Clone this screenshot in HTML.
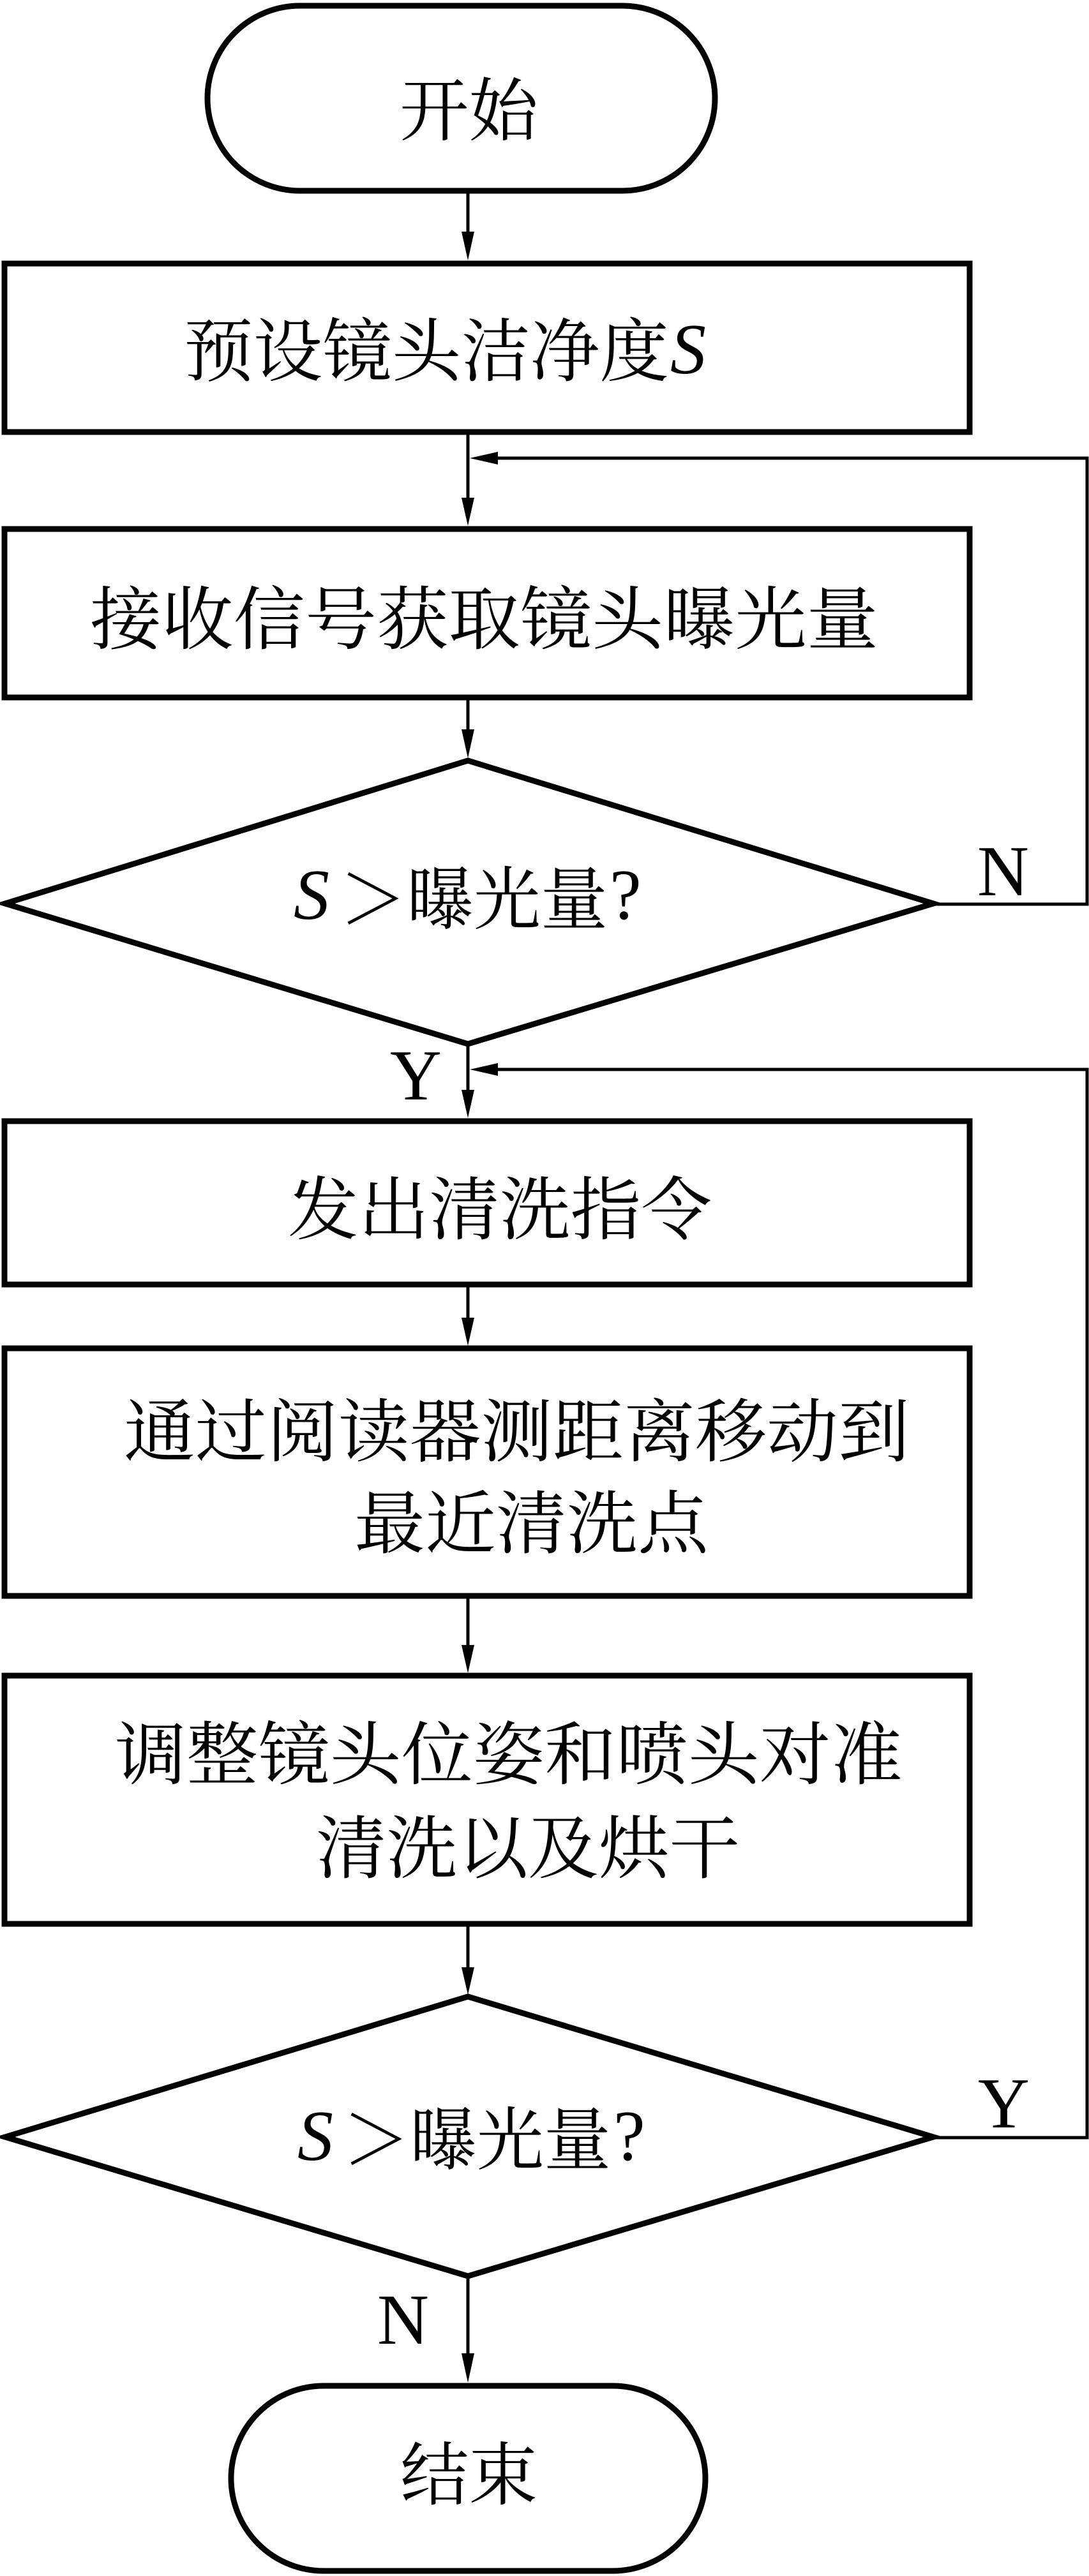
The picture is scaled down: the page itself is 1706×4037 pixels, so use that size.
<!DOCTYPE html>
<html><head><meta charset="utf-8"><style>
html,body{margin:0;padding:0;background:#fff;}
svg{display:block;}
.cjk{font-family:"Noto Serif CJK SC","Liberation Serif",serif;font-size:108px;fill:#000;}
.lat{font-family:"Liberation Serif",serif;font-size:112px;fill:#000;}
</style></head><body>
<svg width="1706" height="4037" viewBox="0 0 1706 4037" xmlns="http://www.w3.org/2000/svg">
<g fill="none" stroke="#000" stroke-width="9">
  <rect x="325" y="9" width="795" height="290" rx="145" ry="145"/>
  <rect x="7" y="413" width="1512" height="264"/>
  <rect x="7" y="829" width="1512" height="264"/>
  <polygon points="8,1416 733,1192 1462,1416 733,1636"/>
  <rect x="7" y="1757" width="1512" height="256"/>
  <rect x="7" y="2113" width="1512" height="388"/>
  <rect x="7" y="2626" width="1512" height="389"/>
  <polygon points="8,3349 733,3129 1462,3349 733,3567"/>
  <rect x="362" y="3739" width="743" height="290" rx="145" ry="145"/>
</g>
<g fill="none" stroke="#000" stroke-width="5">
  <line x1="733" y1="301" x2="733" y2="370"/>
  <line x1="733" y1="681" x2="733" y2="790"/>
  <line x1="733" y1="1097" x2="733" y2="1150"/>
  <line x1="733" y1="1640" x2="733" y2="1715"/>
  <line x1="733" y1="2017" x2="733" y2="2072"/>
  <line x1="733" y1="2505" x2="733" y2="2585"/>
  <line x1="733" y1="3019" x2="733" y2="3090"/>
  <line x1="733" y1="3570" x2="733" y2="3695"/>
  <polyline points="1462,1417 1703,1417 1703,718 775,718"/>
  <polyline points="1462,3350 1703,3350 1703,1676 775,1676"/>
</g>
<g fill="#000">
  <polygon points="723,363 743,363 733,408"/>
  <polygon points="723,780 743,780 733,824"/>
  <polygon points="723,1143 743,1143 733,1188"/>
  <polygon points="723,1708 743,1708 733,1752"/>
  <polygon points="723,2065 743,2065 733,2109"/>
  <polygon points="723,2578 743,2578 733,2622"/>
  <polygon points="723,3083 743,3083 733,3126"/>
  <polygon points="723,3688 743,3688 733,3734"/>
  <polygon points="780,708 780,728 736,718"/>
  <polygon points="780,1666 780,1686 736,1676"/>
</g>
<g class="cjk" dominant-baseline="central">
  <text x="626" y="165" textLength="217" lengthAdjust="spacingAndGlyphs">开始</text>
  <text x="288" y="542" textLength="760" lengthAdjust="spacingAndGlyphs">预设镜头洁净度</text>
  <text x="141" y="962" textLength="1235" lengthAdjust="spacingAndGlyphs">接收信号获取镜头曝光量</text>
  <text x="451" y="1887" textLength="664" lengthAdjust="spacingAndGlyphs">发出清洗指令</text>
  <text x="194" y="2235" textLength="1231" lengthAdjust="spacingAndGlyphs">通过阅读器测距离移动到</text>
  <text x="555" y="2379" textLength="555" lengthAdjust="spacingAndGlyphs">最近清洗点</text>
  <text x="180" y="2741" textLength="1234" lengthAdjust="spacingAndGlyphs">调整镜头位姿和喷头对准</text>
  <text x="495" y="2888" textLength="664" lengthAdjust="spacingAndGlyphs">清洗以及烘干</text>
  <text x="532" y="1401" textLength="420" lengthAdjust="spacingAndGlyphs">＞曝光量</text>
  <text x="537" y="3345" textLength="420" lengthAdjust="spacingAndGlyphs">＞曝光量</text>
  <text x="627" y="3870" textLength="215" lengthAdjust="spacingAndGlyphs">结束</text>
</g>
<g class="lat">
  <text x="1050" y="585" font-style="italic">S</text>
  <text x="460" y="1440" font-style="italic">S</text>
  <text x="955" y="1440">?</text>
  <text x="466" y="3385" font-style="italic">S</text>
  <text x="961" y="3385">?</text>
  <text x="1531" y="1403">N</text>
  <text x="611" y="1723">Y</text>
  <text x="1532" y="3334">Y</text>
  <text x="591" y="3673">N</text>
</g>
</svg>
</body></html>
